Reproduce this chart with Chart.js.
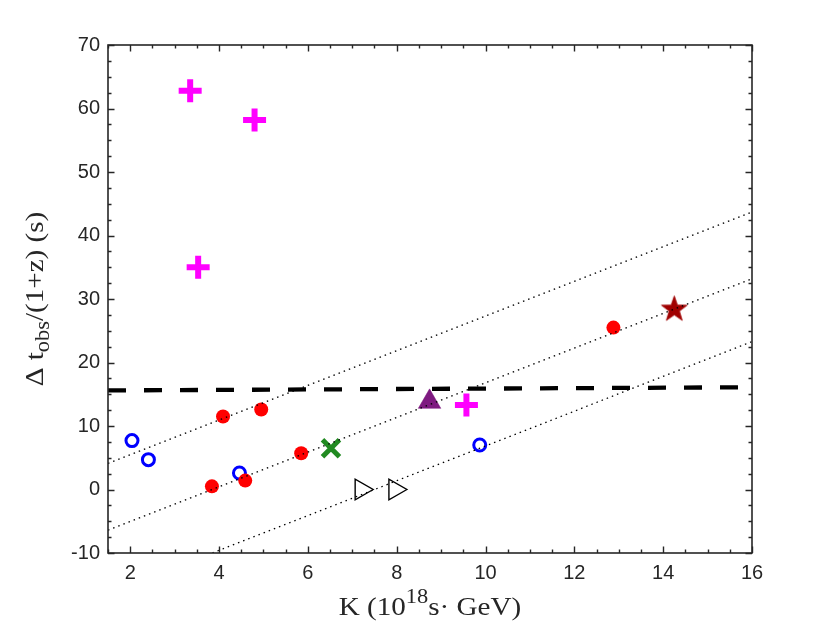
<!DOCTYPE html>
<html>
<head>
<meta charset="utf-8">
<script src="https://cdn.jsdelivr.net/npm/chart.js@4.4.1/dist/chart.umd.min.js"></script>
<style>
html,body{margin:0;padding:0;background:#fff;}
canvas{display:block;}
</style>
</head>
<body>
<canvas id="c" width="830" height="623"></canvas>
<script>
// ---- data ----
const plusK = [3.35, 4.80, 3.53, 9.57];
const plusDt = [62.8, 58.2, 35.0, 13.3];
const redK = [3.84, 4.09, 4.95, 4.59, 5.85, 12.88];
const redDt = [0.5, 11.5, 12.6, 1.4, 5.7, 25.5];
const blueK = [2.04, 2.41, 4.46, 9.87];
const blueDt = [7.7, 4.7, 2.6, 7.0];
const xMarkK = [6.52];
const xMarkDt = [6.5];
const triK = [8.74];
const triDt = [13.8];
const starK = [14.25];
const starDt = [28.6];
const openTriK = [7.20, 7.96];
const openTriDt = [0, 0];
const dashK = [1.5, 16];
const dashDt = [15.6, 16.1];
const dotTopK = [1.5, 16];
const dotTopDt = [4.1, 43.7];
const dotMidK = [1.5, 16];
const dotMidDt = [-6.4, 33.2];
const dotLowK = [3.85, 16];
const dotLowDt = [-10, 23.3];
const xTicks = [2, 4, 6, 8, 10, 12, 14, 16];
const yTicks = [-10, 0, 10, 20, 30, 40, 50, 60, 70];

const pts = (xs, ys) => xs.map((x, i) => ({x: x, y: ys[i]}));

// five-pointed star marker
function makeStar(color, R) {
  const s = Math.ceil(R * 2 + 4);
  const cv = document.createElement('canvas');
  cv.width = s; cv.height = s;
  const g = cv.getContext('2d');
  const c = s / 2, r = R * 0.4;
  g.beginPath();
  for (let i = 0; i < 10; i++) {
    const rr = i % 2 === 0 ? R : r;
    const a = -Math.PI / 2 + i * Math.PI / 5;
    const px = c + rr * Math.cos(a), py = c + 1.5 + rr * Math.sin(a);
    if (i === 0) g.moveTo(px, py); else g.lineTo(px, py);
  }
  g.closePath();
  g.fillStyle = color;
  g.fill();
  g.strokeStyle = color;
  g.lineWidth = 0.8;
  g.stroke();
  return cv;
}
const starImg = makeStar('#A00000', 13.5);

const AX = '#262626';

const framePlugin = {
  id: 'frame',
  afterDraw(chart) {
    const ctx = chart.ctx;
    const a = chart.chartArea;
    const xs = chart.scales.x, ys = chart.scales.y;
    ctx.save();
    ctx.strokeStyle = AX;
    ctx.lineWidth = 1.4;
    // ticks
    const majL = 6.5, minL = 3.5;
    ctx.beginPath();
    for (let v = 1.5; v <= 16.0001; v += 0.5) {
      const px = Math.round(xs.getPixelForValue(v)) + 0.5;
      const L = (Math.abs(v - Math.round(v / 2) * 2) < 1e-6) ? majL : minL;
      ctx.moveTo(px, a.bottom); ctx.lineTo(px, a.bottom - L);
      ctx.moveTo(px, a.top); ctx.lineTo(px, a.top + L);
    }
    for (let v = -10; v <= 70.0001; v += 2.5) {
      const py = Math.round(ys.getPixelForValue(v)) + 0.5;
      const L = (Math.abs(v - Math.round(v / 10) * 10) < 1e-6) ? majL : minL;
      ctx.moveTo(a.left, py); ctx.lineTo(a.left + L, py);
      ctx.moveTo(a.right, py); ctx.lineTo(a.right - L, py);
    }
    ctx.stroke();
    ctx.lineWidth = 1.6;
    ctx.strokeRect(a.left, a.top, a.right - a.left, a.bottom - a.top);

    // axis titles
    ctx.fillStyle = AX;
    ctx.textBaseline = 'alphabetic';
    ctx.textAlign = 'left';
    const serif = '"Liberation Serif", "Times New Roman", serif';
    const SX = 1.12;
    function drawRich(parts, cx, by) {
      let w = 0;
      parts.forEach(p => { ctx.font = p.s + 'px ' + serif; p.w = ctx.measureText(p.t).width; w += p.w; });
      ctx.save();
      ctx.translate(cx, by);
      ctx.scale(SX, 1);
      let x = -w / 2;
      parts.forEach(p => { ctx.font = p.s + 'px ' + serif; ctx.fillText(p.t, x, p.dy); x += p.w; });
      ctx.restore();
    }
    const cx = (a.left + a.right) / 2;
    drawRich([
      {t: 'K (10', s: 26, dy: 0},
      {t: '18', s: 20, dy: -12},
      {t: 's\u00B7 GeV)', s: 26, dy: 0}
    ], cx, 615);
    ctx.save();
    ctx.translate(43, (a.top + a.bottom) / 2);
    ctx.rotate(-Math.PI / 2);
    drawRich([
      {t: '\u0394 t', s: 26, dy: 0},
      {t: 'obs', s: 20, dy: 6},
      {t: '/(1+z) (s)', s: 26, dy: 0}
    ], 0, 0);
    ctx.restore();
    ctx.restore();
  }
};

const lineDs = (label, xs, ys, dash, width) => ({
  type: 'line', label: label, data: pts(xs, ys), borderColor: '#000000',
  borderWidth: width, borderDash: dash, pointRadius: 0, showLine: true,
  fill: false, order: 0, borderCapStyle: 'butt'
});

new Chart(document.getElementById('c'), {
  type: 'scatter',
  data: {
    datasets: [
      lineDs('dashed', dashK, dashDt, [18, 18], 4.3),
      lineDs('dotTop', dotTopK, dotTopDt, [1.5, 4], 1.3),
      lineDs('dotMid', dotMidK, dotMidDt, [1.5, 4], 1.3),
      lineDs('dotLow', dotLowK, dotLowDt, [1.5, 4], 1.3),
      {label: 'plus', data: pts(plusK, plusDt), pointStyle: 'cross', pointRadius: 11.5,
       pointBorderWidth: 6, borderColor: '#FF00FF', backgroundColor: '#FF00FF', order: 1},
      {label: 'star', data: pts(starK, starDt), pointStyle: starImg, pointRadius: 13, order: 1},
      {label: 'tri', data: pts(triK, triDt), pointStyle: 'triangle', pointRadius: 13,
       pointBorderWidth: 0.5, borderColor: '#7E1A80', backgroundColor: '#7E1A80', order: 1},
      {label: 'xmark', data: pts(xMarkK, xMarkDt), pointStyle: 'crossRot', pointRadius: 12,
       pointBorderWidth: 5, borderColor: '#218A21', backgroundColor: '#218A21', order: 1},
      {label: 'red', data: pts(redK, redDt), pointStyle: 'circle', pointRadius: 7,
       pointBorderWidth: 0, borderColor: '#FF0000', backgroundColor: '#FF0000', order: 1},
      {label: 'blue', data: pts(blueK, blueDt), pointStyle: 'circle', pointRadius: 6,
       pointBorderWidth: 3, borderColor: '#0000FF', backgroundColor: 'rgba(0,0,0,0)', order: 1},
      {label: 'openTri', data: pts(openTriK, openTriDt), pointStyle: 'triangle', pointRadius: 12,
       pointRotation: 90, pointBorderWidth: 1.4, borderColor: '#000000',
       backgroundColor: 'rgba(255,255,255,0)', order: 1}
    ]
  },
  options: {
    responsive: false,
    animation: false,
    events: [],
    layout: {padding: {top: 45, right: 78, left: 0, bottom: 0}},
    plugins: {legend: {display: false}, tooltip: {enabled: false}},
    scales: {
      x: {
        type: 'linear', min: 1.5, max: 16,
        grid: {display: false, drawTicks: false},
        border: {display: false},
        afterBuildTicks: s => { s.ticks = xTicks.map(v => ({value: v})); },
        afterFit: s => { s.height = 70; },
        ticks: {padding: 8, color: AX, maxRotation: 0,
          font: {family: '"Liberation Sans", Arial, sans-serif', size: 20}}
      },
      y: {
        type: 'linear', min: -10, max: 70,
        grid: {display: false, drawTicks: false},
        border: {display: false},
        afterBuildTicks: s => { s.ticks = yTicks.map(v => ({value: v})); },
        afterFit: s => { s.width = 108; },
        ticks: {padding: 8, color: AX,
          font: {family: '"Liberation Sans", Arial, sans-serif', size: 20}}
      }
    }
  },
  plugins: [framePlugin]
});
</script>
</body>
</html>
